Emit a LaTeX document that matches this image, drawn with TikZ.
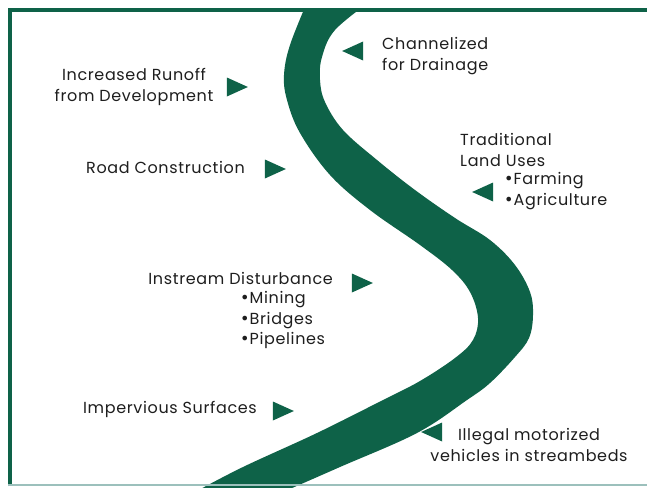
\documentclass[tikz,border=0pt]{standalone}
\usepackage{fontspec}
\setmainfont{Poppins}[LetterSpace=4]
\newfontfamily\bulletfont{DejaVu Sans}
\newcommand\dotmark{{\bulletfont •}}
\usetikzlibrary{shapes.geometric}
\definecolor{river}{RGB}{14,98,72}
\definecolor{rim}{RGB}{156,192,188}
\definecolor{ink}{RGB}{30,30,30}

\begin{document}
\begin{tikzpicture}[x=1pt,y=-1pt]
		\tikzstyle{every node}+=[inner sep=0pt,text=ink,font=\fontsize{16}{20.5}\selectfont]
		\tikzstyle{ptr}=[isosceles triangle,isosceles triangle stretches,fill=river,minimum width=19pt,minimum height=21pt]
		\tikzstyle{ptrleft}=[ptr,shape border rotate=180]
		\useasboundingbox (0,0) rectangle (647,487);
		\fill [white] (0,0) rectangle (647,487);
		\begin{scope}
			\clip (0,10) rectangle (647,487);
			\fill [river] plot [smooth,tension=0.6] coordinates {(308,0) (290,45) (284,75) (287,100) (300,133) (330,175) (370,210) (420,245) (452,270) (470,292) (478,318) (473,340) (455,358) (420,381) (383,400) (317,433) (243,467) (195,492)}
				-- plot [smooth,tension=0.6] coordinates {(283,492) (340,467) (417,433) (467,400) (490,383) (515,357) (529,338) (533,315) (530,292) (515,265) (490,240) (455,218) (415,190) (377,160) (343,130) (325,102) (320,80) (322,57) (335,30) (372,0)}
				-- cycle;
		\end{scope}
		\draw [river,line width=4pt] (10,486) -- (10,10) -- (647,10);
		\draw [rim,line width=1.5pt] (8,485) -- (647,485);
		\draw (382,56) node [anchor=west,align=left] (chan) {Channelized\\for Drainage};
		\draw (357,51) node [ptrleft] (chanptr) {};
		\draw (134,87) node [align=center] (runoff) {Increased Runoff\\from Development};
		\draw (233,87) node [ptr] (runoffptr) {};
		\draw (245,167) node [anchor=east] (road) {Road Construction};
		\draw (271,169) node [ptr] (roadptr) {};
		\draw (460,150) node [anchor=west,align=left] (trad) {Traditional\\Land Uses};
		\draw (504,191) node [anchor=west,align=left] (tradlist) {\dotmark Farming\\\dotmark Agriculture};
		\draw (487,192) node [ptrleft] (tradptr) {};
		\draw (333,278) node [anchor=east] (inst) {Instream Disturbance};
		\draw (240,320) node [anchor=west,align=left] (instlist) {\dotmark Mining\\\dotmark Bridges\\\dotmark Pipelines};
		\draw (358,283) node [ptr] (instptr) {};
		\draw (257,409) node [anchor=east] (imperv) {Impervious Surfaces};
		\draw (279,411) node [ptr] (impervptr) {};
		\draw (529,445) node [align=center] (illegal) {Illegal motorized\\vehicles in streambeds};
		\draw (436,432) node [ptrleft] (illegalptr) {};
	\end{tikzpicture}
\end{document}
